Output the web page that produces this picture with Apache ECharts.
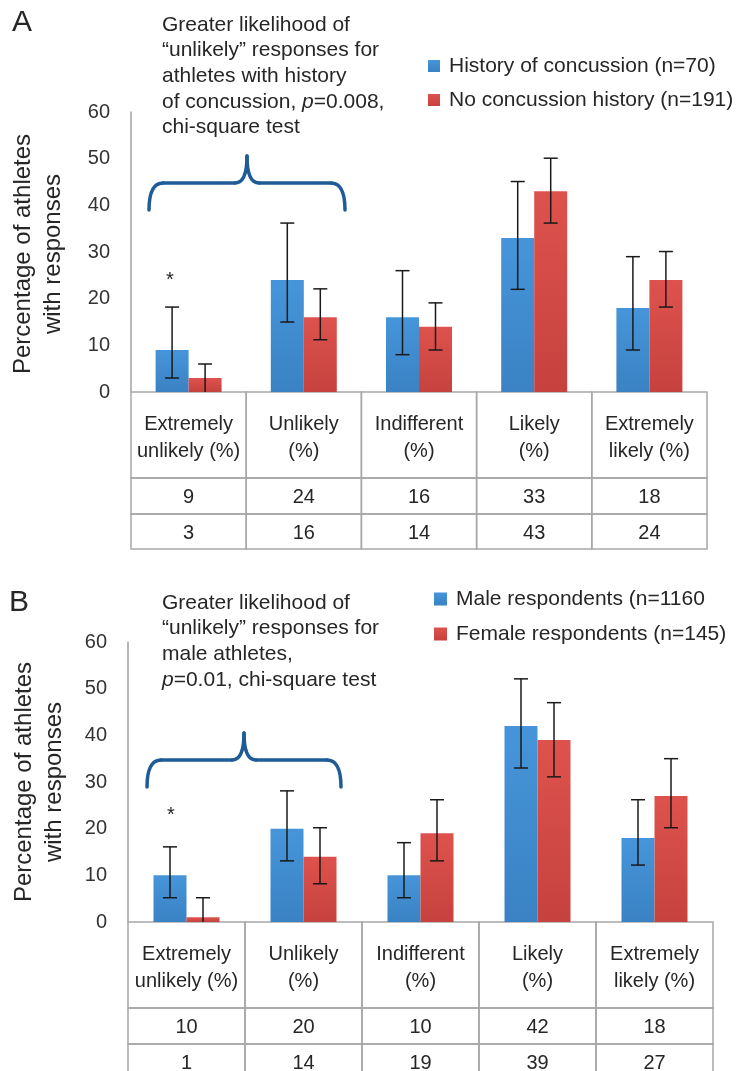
<!DOCTYPE html>
<html>
<head>
<meta charset="utf-8">
<script src="https://cdn.jsdelivr.net/npm/echarts@6/dist/echarts.min.js"></script>
<style>
  html, body { margin: 0; padding: 0; background: #fff; }
  #chart { width: 739px; height: 1071px; }
</style>
</head>
<body>
<div id="chart"></div>
<script>
// categories shared by both panels
var categories = ['Extremely\nunlikely (%)', 'Unlikely\n(%)', 'Indifferent\n(%)', 'Likely\n(%)', 'Extremely\nlikely (%)'];

// panel A
var concussionPct = [9, 24, 16, 33, 18];
var noConcussionPct = [3, 16, 14, 43, 24];
var concussionLow = [3.0, 15.0, 8.0, 22.0, 9.0];
var concussionHigh = [18.2, 36.2, 26.0, 45.1, 29.0];
var noConcussionLow = [0, 11.2, 9.0, 36.2, 18.2];
var noConcussionHigh = [6.0, 22.1, 19.1, 50.1, 30.1];

// panel B
var malePct = [10, 20, 10, 42, 18];
var femalePct = [1, 14, 19, 39, 27];
var maleLow = [5.2, 13.1, 5.2, 33.0, 12.2];
var maleHigh = [16.1, 28.1, 17.0, 52.1, 26.2];
var femaleLow = [0, 8.2, 13.1, 31.1, 20.2];
var femaleHigh = [5.2, 20.2, 26.2, 47.0, 35.0];

var yMin = 0, yMax = 60, yStep = 10;

var FONT = '"Liberation Sans", Arial, sans-serif';
var TXT = '#262626';
var BAR_W = 33;

var blueFill = new echarts.graphic.LinearGradient(0, 0, 0, 1, [
  { offset: 0, color: '#4695da' }, { offset: 1, color: '#3a82c3' }]);
var redFill = new echarts.graphic.LinearGradient(0, 0, 0, 1, [
  { offset: 0, color: '#de524d' }, { offset: 1, color: '#c6423e' }]);

function errorBars(sign) {
  return function (params, api) {
    var i = api.value(0);
    var lo = api.value(1);
    var top = api.coord([i, api.value(2)]);
    var bot = api.coord([i, lo]);
    var x = top[0] + sign * BAR_W / 2;
    var st = { stroke: '#1a1a1a', lineWidth: 1.5 };
    var kids = [
      { type: 'line', shape: { x1: x, y1: top[1], x2: x, y2: bot[1] }, style: st },
      { type: 'line', shape: { x1: x - 7, y1: top[1], x2: x + 7, y2: top[1] }, style: st }
    ];
    if (lo > 0) {
      kids.push({ type: 'line', shape: { x1: x - 7, y1: bot[1], x2: x + 7, y2: bot[1] }, style: st });
    }
    return { type: 'group', children: kids };
  };
}

function tableCells(first, second) {
  return function (params, api) {
    var i = api.value(0);
    var c = api.coord([i, 0]);
    var w = api.size([1, 0])[0];
    var x0 = c[0] - w / 2, y0 = c[1];
    var box = { stroke: '#a8a8a8', lineWidth: 1.5, fill: null };
    function txt(s, y) {
      return { type: 'text', style: { text: s, x: c[0], y: y, font: '20px ' + FONT, fill: TXT,
        align: 'center', verticalAlign: 'middle', textAlign: 'center', textVerticalAlign: 'middle', lineHeight: 27 } };
    }
    return { type: 'group', children: [
      { type: 'rect', shape: { x: x0, y: y0, width: w, height: 86 }, style: box },
      { type: 'rect', shape: { x: x0, y: y0 + 86, width: w, height: 36 }, style: box },
      { type: 'rect', shape: { x: x0, y: y0 + 122, width: w, height: 35 }, style: box },
      txt(categories[i], y0 + 46),
      txt(String(first[i]), y0 + 105),
      txt(String(second[i]), y0 + 141)
    ]};
  };
}

function pairs(lo, hi) {
  return lo.map(function (v, i) { return [i, v, hi[i]]; });
}
var tableRows = categories.map(function (c, i) { return [i, 0]; });

function yAxisFor(g) {
  return {
    type: 'value', gridIndex: g, min: yMin, max: yMax, interval: yStep,
    axisLine: { show: true, lineStyle: { color: '#a0a0a0', width: 1.5 } },
    axisTick: { show: false }, splitLine: { show: false },
    axisLabel: { fontSize: 20, fontFamily: FONT, color: '#333', margin: 21, padding: [6, 0, 0, 0] }
  };
}
function xAxisFor(g) {
  return {
    type: 'category', gridIndex: g, data: categories,
    axisLine: { show: false }, axisTick: { show: false }, axisLabel: { show: false }
  };
}

function textBlock(x, y, lines) {
  return {
    type: 'text', x: x, y: y,
    style: {
      text: lines.join('\n'), font: '21px ' + FONT, fill: TXT, lineHeight: 25.7,
      rich: {
        n: { fontSize: 21, fontFamily: FONT, color: TXT, lineHeight: 25.7 },
        i: { fontSize: 21, fontFamily: FONT, color: TXT, fontStyle: 'italic', lineHeight: 25.7 }
      }
    }
  };
}
// curly brace built from quadratic curves and straight runs
function brace(x1, tipX, x2, yEnd, yMid, yTip) {
  var st = { stroke: '#1f5b96', lineWidth: 3.5, fill: null, lineCap: 'round' };
  function q(ax, ay, cx, cy, bx, by) {
    return { type: 'bezierCurve', shape: { x1: ax, y1: ay, cpx1: cx, cpy1: cy, x2: bx, y2: by }, style: st };
  }
  function l(ax, ay, bx, by) {
    return { type: 'line', shape: { x1: ax, y1: ay, x2: bx, y2: by }, style: st };
  }
  return { type: 'group', children: [
    q(x1, yEnd, x1, yMid, x1 + 14, yMid),
    l(x1 + 14, yMid, tipX - 12, yMid),
    q(tipX - 12, yMid, tipX, yMid, tipX, yTip),
    q(tipX, yTip, tipX, yMid, tipX + 12, yMid),
    l(tipX + 12, yMid, x2 - 14, yMid),
    q(x2 - 14, yMid, x2, yMid, x2, yEnd)
  ]};
}
function plain(x, y, s, size, extra) {
  var st = { text: s, x: 0, y: 0, font: size + 'px ' + FONT, fill: TXT,
    align: 'center', verticalAlign: 'middle', textAlign: 'center', textVerticalAlign: 'middle' };
  for (var k in extra) st[k] = extra[k];
  return { type: 'text', x: x, y: y, style: st };
}
function axisTitle(x, y) {
  var t = plain(x, y, 'Percentage of athletes\nwith responses', 24, { lineHeight: 30 });
  t.rotation = Math.PI / 2;
  return t;
}

var legendText = { fontSize: 21, fontFamily: FONT, color: TXT, lineHeight: 22, padding: [0, 0, 0, 4] };

var chart = echarts.init(document.getElementById('chart'));
var option = {
  animation: false,
  grid: [
    { left: 131, top: 112, width: 576, height: 280 },
    { left: 128, top: 642, width: 585, height: 280 }
  ],
  xAxis: [xAxisFor(0), xAxisFor(1)],
  yAxis: [yAxisFor(0), yAxisFor(1)],
  legend: [
    { data: ['History of concussion (n=70)', 'No concussion history (n=191)'], orient: 'vertical',
      left: 428, top: 55, padding: 0, icon: 'rect', itemWidth: 12, itemHeight: 12, itemGap: 12, textStyle: legendText },
    { data: ['Male respondents (n=1160', 'Female respondents (n=145)'], orient: 'vertical',
      left: 434, top: 588, padding: 0, icon: 'rect', itemWidth: 13, itemHeight: 13, itemGap: 13, textStyle: legendText }
  ],
  series: [
    { name: 'History of concussion (n=70)', type: 'bar', xAxisIndex: 0, yAxisIndex: 0,
      data: concussionPct, barWidth: BAR_W, barGap: '0%', itemStyle: { color: blueFill } },
    { name: 'No concussion history (n=191)', type: 'bar', xAxisIndex: 0, yAxisIndex: 0,
      data: noConcussionPct, barWidth: BAR_W, barGap: '0%', itemStyle: { color: redFill } },
    { type: 'custom', xAxisIndex: 0, yAxisIndex: 0, renderItem: errorBars(-1),
      data: pairs(concussionLow, concussionHigh), encode: { x: 0, y: [1, 2] }, z: 5 },
    { type: 'custom', xAxisIndex: 0, yAxisIndex: 0, renderItem: errorBars(1),
      data: pairs(noConcussionLow, noConcussionHigh), encode: { x: 0, y: [1, 2] }, z: 5 },
    { type: 'custom', xAxisIndex: 0, yAxisIndex: 0, renderItem: tableCells(concussionPct, noConcussionPct),
      data: tableRows, encode: { x: 0, y: 1 }, clip: false, silent: true },

    { name: 'Male respondents (n=1160', type: 'bar', xAxisIndex: 1, yAxisIndex: 1,
      data: malePct, barWidth: BAR_W, barGap: '0%', itemStyle: { color: blueFill } },
    { name: 'Female respondents (n=145)', type: 'bar', xAxisIndex: 1, yAxisIndex: 1,
      data: femalePct, barWidth: BAR_W, barGap: '0%', itemStyle: { color: redFill } },
    { type: 'custom', xAxisIndex: 1, yAxisIndex: 1, renderItem: errorBars(-1),
      data: pairs(maleLow, maleHigh), encode: { x: 0, y: [1, 2] }, z: 5 },
    { type: 'custom', xAxisIndex: 1, yAxisIndex: 1, renderItem: errorBars(1),
      data: pairs(femaleLow, femaleHigh), encode: { x: 0, y: [1, 2] }, z: 5 },
    { type: 'custom', xAxisIndex: 1, yAxisIndex: 1, renderItem: tableCells(malePct, femalePct),
      data: tableRows, encode: { x: 0, y: 1 }, clip: false, silent: true }
  ],
  graphic: [
    plain(22, 23, 'A', 30),
    plain(19, 603, 'B', 30),
    textBlock(162, 12, ['{n|Greater likelihood of}', '{n|\u201cunlikely\u201d responses for}',
      '{n|athletes with history}', '{n|of concussion, }{i|p}{n|=0.008,}', '{n|chi-square test}']),
    textBlock(162, 590, ['{n|Greater likelihood of}', '{n|\u201cunlikely\u201d responses for}',
      '{n|male athletes,}', '{i|p}{n|=0.01, chi-square test}']),
    brace(149, 247, 345, 210, 183, 156),
    brace(147, 244, 341, 787, 760, 733),
    plain(170, 280, '*', 20),
    plain(171, 815, '*', 20),
    axisTitle(38, 254),
    axisTitle(39, 782)
  ]
};
chart.setOption(option);
</script>
</body>
</html>
